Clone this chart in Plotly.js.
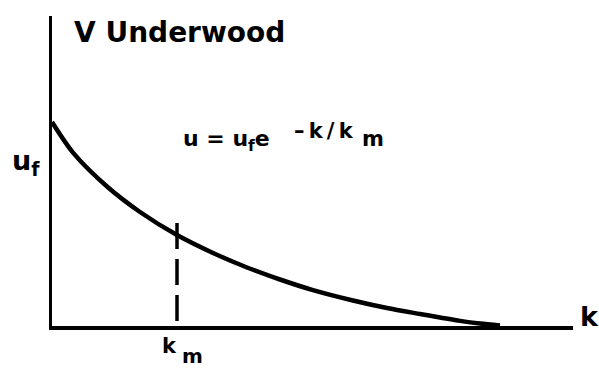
<!DOCTYPE html>
<html>
<head>
<meta charset="utf-8">
<script src="https://cdn.plot.ly/plotly-3.0.1.min.js"></script>
<style>
  html, body { margin: 0; padding: 0; background: #fff; }
  #chart { width: 599px; height: 369px; }
</style>
</head>
<body>
<div id="chart"></div>
<script>
// Underwood speed–density model, k in units of k_m, u in units of u_f
const densityK = [0, 0.168, 0.44, 0.704, 1.0, 1.288, 1.56, 1.824, 2.088, 2.408, 2.68, 2.944, 3.104, 3.264, 3.424, 3.584];
const speedU   = [1.0, 0.850, 0.684, 0.559, 0.446, 0.358, 0.287, 0.228, 0.176, 0.125, 0.088, 0.059, 0.042, 0.025, 0.012, 0.003];

// dashed drop line from the curve down to the optimum density k_m
const dropK = [1.0, 1.0];
const dropU = [0.505, 0];

const kMax = 4.168;
const uMax = 1.52;

// plot-area geometry, used to place the free text labels
const M = {l: 52, r: 26, t: 16, b: 43};
const W = 599, H = 369;
const PW = W - M.l - M.r, PH = H - M.t - M.b;
const px = x => (x - M.l) / PW;
const py = y => (H - M.b - y) / PH;

const FONT = 'DejaVu Sans';
const ink = '#000';
const thin = '\u2009';

const traces = [
  {
    x: densityK, y: speedU, type: 'scatter', mode: 'lines',
    line: {color: ink, width: 4.5, shape: 'spline', smoothing: 0.8},
    hoverinfo: 'skip', cliponaxis: false
  },
  {
    x: dropK, y: dropU, type: 'scatter', mode: 'lines',
    line: {color: ink, width: 3.5, dash: '26px,10px'},
    hoverinfo: 'skip'
  }
];

const ann = (text, x, y, size, xanchor) => ({
  text, x, y, xref: 'paper', yref: 'paper', showarrow: false,
  xanchor: xanchor || 'left', yanchor: 'middle',
  font: {family: FONT, size, color: ink, weight: 'bold'}
});

const kmLabel = (text, size, xanchor, xshift, y) => ({
  text, x: dropK[0], y: py(y), xref: 'x', yref: 'paper',
  showarrow: false, xanchor, yanchor: 'middle', xshift,
  font: {family: FONT, size, color: ink, weight: 'bold'}
});

const layout = {
  width: W, height: H,
  margin: M,
  paper_bgcolor: '#fff', plot_bgcolor: '#fff',
  showlegend: false,
  xaxis: {
    range: [0, kMax], showgrid: false, zeroline: false,
    showticklabels: false, ticks: '',
    showline: true, linecolor: ink, linewidth: 3.5
  },
  yaxis: {
    range: [0, uMax], showgrid: false, zeroline: false,
    showticklabels: false, ticks: '',
    showline: true, linecolor: ink, linewidth: 3.5
  },
  annotations: [
    ann('V Underwood', px(72), py(33), 28),
    ann('u<sub>f</sub>', px(10), py(162), 27),
    // u = u_f e^(−k/k_m), exponent set as separate pieces
    ann('u = u<sub>f</sub>e', px(181), py(140), 22),
    ann(['–', 'k', '/', 'k'].join(thin), px(292), py(131), 21),
    ann('m', px(360), py(139), 21),
    ann('k', px(578), py(316), 27),
    kmLabel('k', 21, 'right', 2, 346),
    kmLabel('m', 20, 'left', 3, 356)
  ]
};

Plotly.newPlot('chart', traces, layout, {staticPlot: true, displayModeBar: false});
</script>
</body>
</html>
